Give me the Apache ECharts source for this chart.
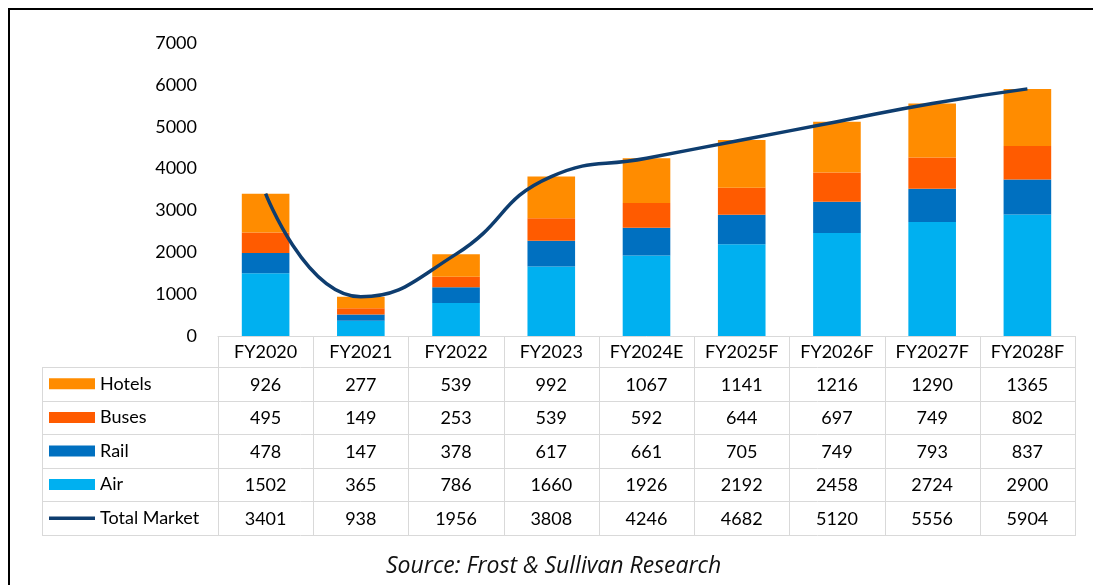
<!DOCTYPE html>
<html>
<head>
<meta charset="utf-8">
<script src="https://cdn.jsdelivr.net/npm/echarts@6/dist/echarts.min.js"></script>
<style>
  html, body { margin: 0; padding: 0; background: #fff; }
  #chart { width: 1093px; height: 585px; }
</style>
</head>
<body>
<div id="chart"></div>
<script>
const years = ['FY2020', 'FY2021', 'FY2022', 'FY2023', 'FY2024E', 'FY2025F', 'FY2026F', 'FY2027F', 'FY2028F']
const hotels = [926, 277, 539, 992, 1067, 1141, 1216, 1290, 1365]
const buses = [495, 149, 253, 539, 592, 644, 697, 749, 802]
const rail = [478, 147, 378, 617, 661, 705, 749, 793, 837]
const air = [1502, 365, 786, 1660, 1926, 2192, 2458, 2724, 2900]
const totalMarket = [3401, 938, 1956, 3808, 4246, 4682, 5120, 5556, 5904]
const yTicks = [0, 1000, 2000, 3000, 4000, 5000, 6000, 7000]

// layout of plot + table
const gridLeft = 218
const gridRight = 1075
const gridTop = 43
const axisY = 336
const headH = 31
const rowH = 33.6
const tableLeft = 42
const colW = (gridRight - gridLeft) / years.length
const font = 'Lato, "Liberation Sans", sans-serif'
const lineGray = '#d9d9d9'

const chart = echarts.init(document.getElementById('chart'))

function tableLines() {
  const els = []
  const firstRule = axisY + headH
  const bottom = firstRule + rowH * 5
  // horizontal rules below header
  for (let r = 0; r <= 5; r++) {
    const y = Math.round(firstRule + rowH * r) + 0.5
    els.push({
      type: 'line',
      shape: { x1: tableLeft, y1: y, x2: gridRight + 1, y2: y },
      style: { stroke: lineGray, lineWidth: 1 }
    })
  }
  // vertical rules
  els.push({
    type: 'line',
    shape: { x1: tableLeft + 0.5, y1: firstRule, x2: tableLeft + 0.5, y2: bottom + 1 },
    style: { stroke: lineGray, lineWidth: 1 }
  })
  for (let c = 0; c <= years.length; c++) {
    const x = Math.round(gridLeft + colW * c) + 0.5
    els.push({
      type: 'line',
      shape: { x1: x, y1: axisY, x2: x, y2: bottom + 1 },
      style: { stroke: lineGray, lineWidth: 1 }
    })
  }
  // outer frame (top + left edges of the screenshot)
  els.push({
    type: 'rect',
    shape: { x: 9, y: 9, width: 1200, height: 700 },
    style: { fill: 'none', stroke: '#000', lineWidth: 2 }
  })
  return els
}

function barSeries(name, data, color) {
  return {
    name: name,
    type: 'bar',
    stack: 'market',
    data: data,
    barCategoryGap: '50%',
    itemStyle: { color: color },
    animation: false
  }
}

chart.setOption({
  animation: false,
  textStyle: { fontFamily: font },
  title: {
    text: 'Source: Frost & Sullivan Research',
    left: 386,
    top: 555,
    padding: 0,
    textStyle: {
      fontFamily: '"Open Sans", sans-serif',
      fontStyle: 'italic',
      fontWeight: 'normal',
      fontSize: 23,
      color: '#111'
    }
  },
  grid: {
    left: gridLeft,
    right: 1093 - gridRight,
    top: gridTop,
    bottom: 585 - axisY
  },
  legend: {
    orient: 'vertical',
    left: 49,
    top: axisY + headH + rowH / 2 - 10,
    padding: 0,
    itemWidth: 46,
    itemHeight: 11,
    itemGap: rowH - 20,
    selectedMode: false,
    textStyle: { fontSize: 18, color: '#000', lineHeight: 20 },
    data: [
      { name: 'Hotels', icon: 'rect' },
      { name: 'Buses', icon: 'rect' },
      { name: 'Rail', icon: 'rect' },
      { name: 'Air', icon: 'rect' },
      { name: 'Total Market', icon: 'path://M0,0H46V3.6H0Z' }
    ]
  },
  xAxis: {
    type: 'category',
    data: years,
    axisLine: { show: true, lineStyle: { color: lineGray, width: 1 } },
    axisTick: { show: false },
    axisLabel: {
      margin: 1,
      interval: 0,
      formatter: function (value, i) {
        const rows = [hotels[i], buses[i], rail[i], air[i], totalMarket[i]]
        return '{h|' + value + '}\n' + rows.map(v => '{v|' + v + '}').join('\n')
      },
      rich: {
        h: { fontSize: 18, color: '#000', lineHeight: headH, fontFamily: font },
        v: { fontSize: 18, color: '#000', lineHeight: rowH, fontFamily: font }
      }
    }
  },
  yAxis: {
    type: 'value',
    min: yTicks[0],
    max: yTicks[yTicks.length - 1],
    interval: yTicks[1] - yTicks[0],
    axisLine: { show: false },
    axisTick: { show: false },
    splitLine: { show: false },
    axisLabel: {
      fontSize: 18,
      color: '#000',
      margin: 21,
      formatter: v => String(v)
    }
  },
  series: [
    barSeries('Air', air, '#00B0F0'),
    barSeries('Rail', rail, '#0070C0'),
    barSeries('Buses', buses, '#FF5B00'),
    barSeries('Hotels', hotels, '#FF8C00'),
    {
      name: 'Total Market',
      type: 'line',
      data: totalMarket,
      smooth: 0.5,
      symbol: 'none',
      z: 5,
      lineStyle: { color: '#0E3D6F', width: 3.5 },
      itemStyle: { color: '#0E3D6F' },
      animation: false
    }
  ],
  graphic: tableLines()
})
</script>
</body>
</html>
